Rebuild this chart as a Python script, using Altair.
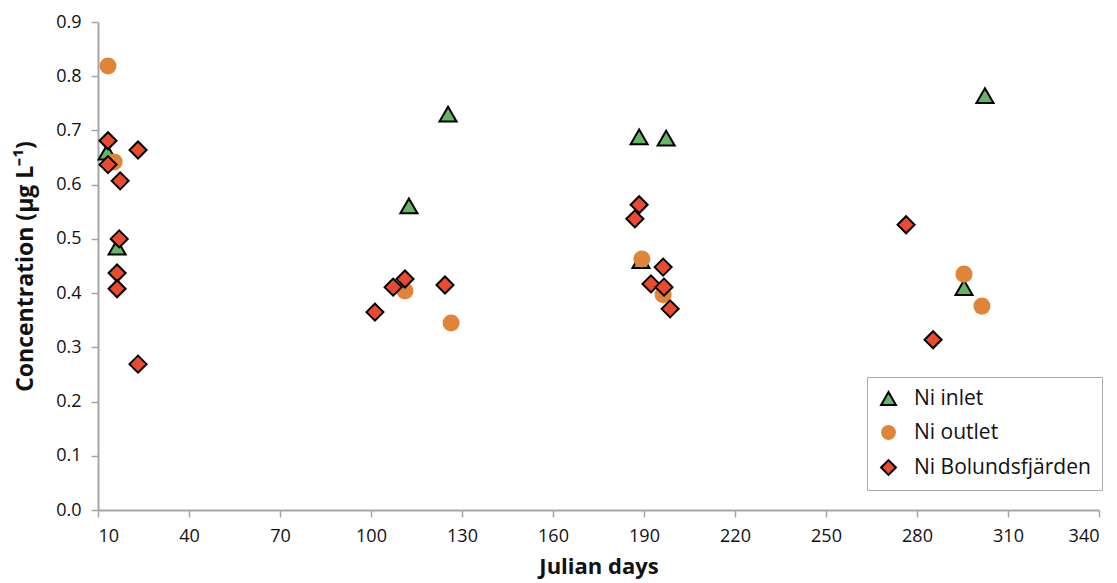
import altair as alt
import pandas as pd

inlet_day = [13, 16.3, 112.5, 125.4, 188.4, 197.3, 189, 302.4, 295.5]
inlet_val = [0.66, 0.485, 0.561, 0.73, 0.688, 0.686, 0.46, 0.764, 0.41]

outlet_day = [13.3, 15.3, 111.2, 126.4, 189.3, 196.3, 295.5, 301.4]
outlet_val = [0.819, 0.642, 0.404, 0.345, 0.463, 0.397, 0.435, 0.376]

bol_day = [13.3, 13.3, 23.2, 17.3, 17.0, 16.3, 16.3, 23.2, 101.3, 107.3, 111.2, 124.4,
           188.4, 187.0, 196.3, 192.3, 196.6, 198.6, 276.4, 285.3]
bol_val = [0.681, 0.637, 0.664, 0.607, 0.5, 0.437, 0.408, 0.269, 0.365, 0.411, 0.426, 0.415,
           0.563, 0.537, 0.448, 0.417, 0.411, 0.371, 0.526, 0.314]

series = ["Ni inlet", "Ni outlet", "Ni Bolundsfjärden"]
x_ticks = [10, 40, 70, 100, 130, 160, 190, 220, 250, 280, 310, 340]
y_ticks = [0.0, 0.1, 0.2, 0.3, 0.4, 0.5, 0.6, 0.7, 0.8, 0.9]

rows = []
for d, v in zip(inlet_day, inlet_val):
    rows.append({"day": d, "val": v, "series": series[0]})
for d, v in zip(outlet_day, outlet_val):
    rows.append({"day": d, "val": v, "series": series[1]})
for d, v in zip(bol_day, bol_val):
    rows.append({"day": d, "val": v, "series": series[2]})
df = pd.DataFrame(rows)
df["order"] = df["series"].map({s: i for i, s in enumerate(series)})

FONT = "Open Sans"

chart = alt.Chart(df).mark_point(filled=True, opacity=1, strokeWidth=2, size=290).encode(
    x=alt.X("day:Q", scale=alt.Scale(domain=[10, 340], nice=False, zero=False),
            axis=alt.Axis(values=x_ticks, title="Julian days", grid=False,
                          titleFontSize=22, titlePadding=11, labelPadding=10)),
    y=alt.Y("val:Q", scale=alt.Scale(domain=[0, 0.9], nice=False),
            axis=alt.Axis(values=y_ticks, format=".1f", title="Concentration (µg L⁻¹)", grid=False,
                          titleFontSize=23, titlePadding=18, labelPadding=10)),
    fill=alt.Fill("series:N", scale=alt.Scale(domain=series, range=["#62b664", "#e0843a", "#ea4b2e"]),
                  legend=alt.Legend(title=None, orient="none", legendX=769, legendY=355,
                                    padding=11, strokeColor="#aaaaaa", fillColor="white",
                                    labelFontSize=21, labelFont=FONT, labelColor="#111",
                                    symbolSize=220, rowPadding=12, labelOffset=15, labelLimit=300,
                                    symbolStrokeWidth=2)),
    shape=alt.Shape("series:N", scale=alt.Scale(domain=series, range=["triangle-up", "circle", "diamond"])),
    stroke=alt.Stroke("series:N", scale=alt.Scale(domain=series, range=["black", "transparent", "black"])),
    order=alt.Order("order:Q"),
).properties(
    width=1001, height=488,
    padding={"top": 5, "left": 6, "right": 5, "bottom": 5},
).configure_view(stroke=None).configure_axis(
    domainColor="#a6a6a6", tickColor="#a6a6a6", domainWidth=2, tickWidth=1.5, tickSize=7,
    labelFont=FONT, labelFontSize=18, labelColor="#111", titleFont=FONT,
    titleFontWeight="bold", titleColor="#111",
)

chart.save("out.html", embed_options={"renderer": "svg", "actions": False})
